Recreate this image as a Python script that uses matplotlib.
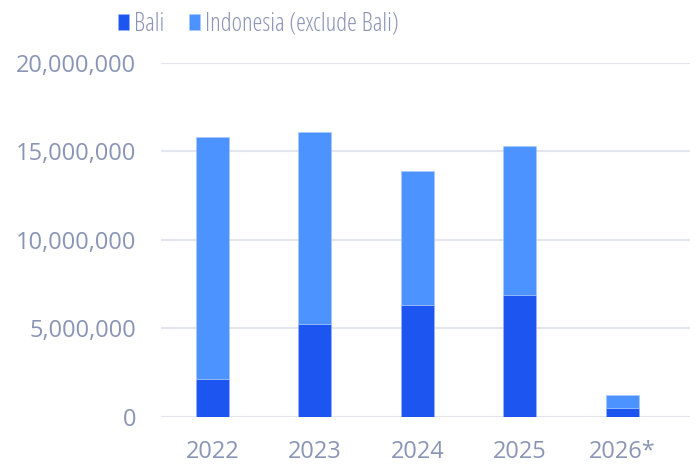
import matplotlib
matplotlib.use("Agg")
import matplotlib.pyplot as plt
from matplotlib.ticker import FuncFormatter

# Data
years = ["2022", "2023", "2024", "2025", "2026*"]
bali = [2_150_000, 5_260_000, 6_340_000, 6_900_000, 510_000]
totals = [15_790_000, 16_090_000, 13_890_000, 15_320_000, 1_210_000]
indonesia_ex_bali = [t - b for t, b in zip(totals, bali)]
y_ticks = [0, 5_000_000, 10_000_000, 15_000_000, 20_000_000]

BALI_COLOR = "#1d55f1"
INDO_COLOR = "#4c93ff"
TEXT_COLOR = "#8a95b6"
GRID_COLOR = "#e4e6ef"

plt.rcParams["font.family"] = ["Open Sans", "DejaVu Sans"]

fig = plt.figure(figsize=(6.99, 4.65), dpi=100)
ax = fig.add_axes([0.2303, 0.104, 0.757, 0.7605])

x = range(len(years))
ax.bar(x, bali, width=0.32, color=BALI_COLOR, label="Bali",
       edgecolor="#9bb4ff", linewidth=0.4, zorder=3)
ax.bar(x, indonesia_ex_bali, width=0.32, bottom=bali, color=INDO_COLOR,
       label="Indonesia (exclude Bali)", edgecolor="#a9cbff", linewidth=0.4, zorder=3)

ax.set_xlim(-0.5, 4.66)
ax.set_ylim(0, 20_000_000)
ax.set_yticks(y_ticks)
ax.yaxis.set_major_formatter(FuncFormatter(lambda v, p: f"{int(v):,}"))
ax.set_xticks(list(x))
ax.set_xticklabels(years)

ax.grid(axis="y", color=GRID_COLOR, linewidth=1.5, zorder=0)
ax.set_axisbelow(True)
for s in ax.spines.values():
    s.set_visible(False)
ax.tick_params(axis="both", length=0, labelsize=17, colors=TEXT_COLOR)
ax.tick_params(axis="y", pad=18)
ax.tick_params(axis="x", pad=17)

# legend uses a condensed face, like the reference
leg = fig.legend(loc="center left", bbox_to_anchor=(118 / 699, 0.948), ncol=2,
                 frameon=False, handlelength=0.44, handleheight=0.6,
                 handletextpad=0.2, columnspacing=1.0, borderpad=0, borderaxespad=0,
                 prop={"family": "Open Sans", "stretch": "condensed", "weight": 300, "size": 18})
for t in leg.get_texts():
    t.set_color(TEXT_COLOR)

fig.savefig("out.png", dpi=100)
